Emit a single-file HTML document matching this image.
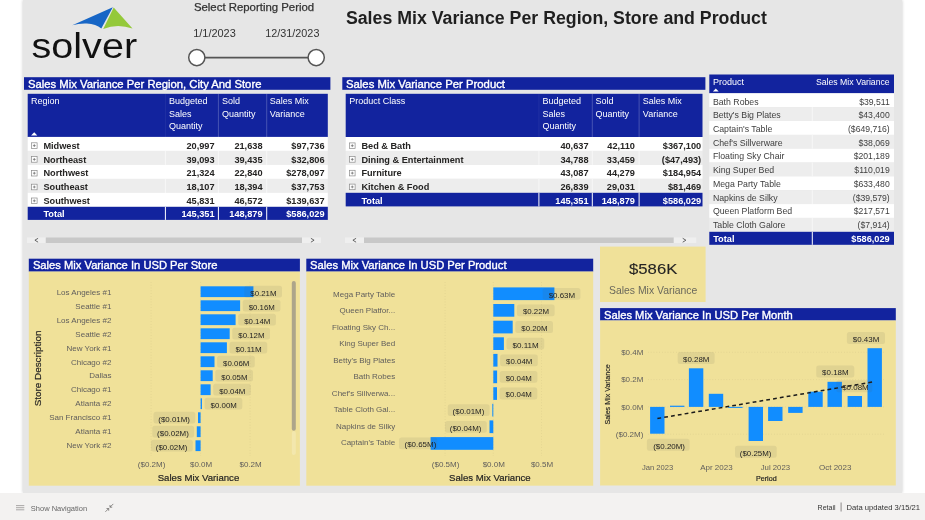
<!DOCTYPE html>
<html lang="en">
<head>
<meta charset="utf-8">
<title>Sales Mix Variance Per Region, Store and Product</title>
<style>
html,body{margin:0;padding:0;}
body{width:925px;height:520px;overflow:hidden;background:#fff;position:relative;font-family:"Liberation Sans",sans-serif;color:#252423;}
#canvas{position:absolute;left:23px;top:0;width:878.8px;height:492.6px;background:#E6E6E6;box-shadow:0 0 3px rgba(0,0,0,.22);}
#footerbg{position:absolute;left:0;top:493px;width:925px;height:27px;background:#F3F2F1;}
section{position:absolute;left:0;top:0;width:925px;height:520px;pointer-events:none;}
svg{position:absolute;left:0;top:0;overflow:visible;}
svg text{font-family:"Liberation Sans",sans-serif;white-space:pre;}
</style>
</head>
<body>
<div id="canvas"></div>
<div id="footerbg"></div>
<section id="logo" aria-label="Solver logo"><svg width="925" height="520" viewBox="0 0 925 520">
<path d="M72.3 25.2 L112.8 7.2 L101.3 28.6 Q96 24.3 86.9 23.6 Q79 23.3 72.3 25.2 Z" fill="#1766C6"/>
<path d="M113.7 7.6 L132.5 28.6 Q117.7 23.4 103.2 28.9 Z" fill="#94C93A"/>
<text x="31.5" y="57.8" font-size="35.8" fill="#111" textLength="105.6" lengthAdjust="spacingAndGlyphs">solver</text>
</svg></section>
<section id="slicer" aria-label="Select Reporting Period"><svg width="925" height="520" viewBox="0 0 925 520">
<line x1="197" y1="57.6" x2="316" y2="57.6" stroke="#555" stroke-width="1.8"/>
<circle cx="196.8" cy="57.6" r="8.1" fill="#fff" stroke="#555" stroke-width="1.5"/>
<circle cx="316.2" cy="57.6" r="8.1" fill="#fff" stroke="#555" stroke-width="1.5"/>
<text x="193.9" y="10.8" font-size="10.8" fill="#333" textLength="120.3" lengthAdjust="spacingAndGlyphs" stroke="#333" stroke-width="0.25">Select Reporting Period</text>
<text x="193.2" y="36.8" font-size="11" fill="#333" textLength="42.6" lengthAdjust="spacingAndGlyphs">1/1/2023</text>
<text x="265.3" y="36.8" font-size="11" fill="#333" textLength="54.1" lengthAdjust="spacingAndGlyphs">12/31/2023</text>
</svg></section>
<section id="pageTitle" aria-label="Report title"><svg width="925" height="520" viewBox="0 0 925 520">

<text x="345.9" y="23.5" font-size="18.7" fill="#1f1f1f" font-weight="700" textLength="421" lengthAdjust="spacingAndGlyphs">Sales Mix Variance Per Region, Store and Product</text>
</svg></section>
<section id="regionMatrix" aria-label="Sales Mix Variance Per Region, City And Store"><svg width="925" height="520" viewBox="0 0 925 520">
<rect x="24.0" y="77.2" width="306.4" height="12.6" fill="#12239E"/>
<rect x="27.7" y="93.8" width="300.1" height="43.2" fill="#12239E"/>
<rect x="164.9" y="93.8" width="1.0" height="43.2" fill="rgba(255,255,255,.06)"/>
<rect x="217.9" y="93.8" width="1.0" height="43.2" fill="rgba(255,255,255,.22)"/>
<rect x="266.2" y="93.8" width="1.0" height="43.2" fill="rgba(255,255,255,.22)"/>
<path d="M31.1 135.4L34.2 132.3L37.3 135.4Z" fill="#fff"/>
<rect x="27.7" y="136.9" width="300.1" height="14.0" fill="#fff"/>
<rect x="31.5" y="142.8" width="5.6" height="5.6" fill="#fff" stroke="#8a8a8a" stroke-width="0.7"/>
<path d="M32.9 145.6H35.7M34.3 144.2V147.0" stroke="#666" stroke-width="0.7" fill="none"/>
<rect x="27.7" y="150.9" width="300.1" height="14.0" fill="#EDEDED"/>
<rect x="164.9" y="150.9" width="1.0" height="14.0" fill="#f7f7f7"/>
<rect x="217.9" y="150.9" width="1.0" height="14.0" fill="#f7f7f7"/>
<rect x="266.2" y="150.9" width="1.0" height="14.0" fill="#f7f7f7"/>
<rect x="31.5" y="156.6" width="5.6" height="5.6" fill="#fff" stroke="#8a8a8a" stroke-width="0.7"/>
<path d="M32.9 159.4H35.7M34.3 158.0V160.8" stroke="#666" stroke-width="0.7" fill="none"/>
<rect x="27.7" y="164.9" width="300.1" height="14.0" fill="#fff"/>
<rect x="31.5" y="170.4" width="5.6" height="5.6" fill="#fff" stroke="#8a8a8a" stroke-width="0.7"/>
<path d="M32.9 173.2H35.7M34.3 171.8V174.6" stroke="#666" stroke-width="0.7" fill="none"/>
<rect x="27.7" y="178.9" width="300.1" height="14.0" fill="#EDEDED"/>
<rect x="164.9" y="178.9" width="1.0" height="14.0" fill="#f7f7f7"/>
<rect x="217.9" y="178.9" width="1.0" height="14.0" fill="#f7f7f7"/>
<rect x="266.2" y="178.9" width="1.0" height="14.0" fill="#f7f7f7"/>
<rect x="31.5" y="184.2" width="5.6" height="5.6" fill="#fff" stroke="#8a8a8a" stroke-width="0.7"/>
<path d="M32.9 187.0H35.7M34.3 185.6V188.4" stroke="#666" stroke-width="0.7" fill="none"/>
<rect x="27.7" y="192.8" width="300.1" height="14.0" fill="#fff"/>
<rect x="31.5" y="198.0" width="5.6" height="5.6" fill="#fff" stroke="#8a8a8a" stroke-width="0.7"/>
<path d="M32.9 200.8H35.7M34.3 199.4V202.2" stroke="#666" stroke-width="0.7" fill="none"/>
<rect x="27.7" y="206.8" width="300.1" height="13.1" fill="#12239E"/>
<rect x="164.9" y="206.8" width="1.0" height="13.1" fill="#fff"/>
<rect x="217.9" y="206.8" width="1.0" height="13.1" fill="#fff"/>
<rect x="266.2" y="206.8" width="1.0" height="13.1" fill="#fff"/>
<rect x="27.0" y="237.5" width="18.8" height="5.5" fill="#EFEFEF"/>
<rect x="45.8" y="237.5" width="256.2" height="5.5" fill="#C8C8C8"/>
<rect x="302.0" y="237.5" width="19.0" height="5.5" fill="#EFEFEF"/>
<path d="M38.1 238.3L34.9 240.2L38.1 242.2M310.9 238.3L314.1 240.2L310.9 242.2" stroke="#555" stroke-width="0.9" fill="none"/>
<text x="28.0" y="87.8" font-size="10.7" fill="#fff" textLength="233.4" lengthAdjust="spacingAndGlyphs" stroke="#fff" stroke-width="0.35">Sales Mix Variance Per Region, City And Store</text>
<text x="31.1" y="104.2" font-size="9" fill="#fff">Region</text>
<text x="169.1" y="104.2" font-size="9" fill="#fff">Budgeted</text>
<text x="169.1" y="116.5" font-size="9" fill="#fff">Sales</text>
<text x="169.1" y="128.8" font-size="9" fill="#fff">Quantity</text>
<text x="221.9" y="104.2" font-size="9" fill="#fff">Sold</text>
<text x="221.9" y="116.5" font-size="9" fill="#fff">Quantity</text>
<text x="269.8" y="104.2" font-size="9" fill="#fff">Sales Mix</text>
<text x="269.8" y="116.5" font-size="9" fill="#fff">Variance</text>
<text x="43.4" y="148.8" font-size="9.2" fill="#252423" font-weight="700">Midwest</text>
<text x="214.6" y="148.8" font-size="9.2" fill="#252423" font-weight="700" text-anchor="end">20,997</text>
<text x="262.5" y="148.8" font-size="9.2" fill="#252423" font-weight="700" text-anchor="end">21,638</text>
<text x="324.5" y="148.8" font-size="9.2" fill="#252423" font-weight="700" text-anchor="end">$97,736</text>
<text x="43.4" y="162.6" font-size="9.2" fill="#252423" font-weight="700">Northeast</text>
<text x="214.6" y="162.6" font-size="9.2" fill="#252423" font-weight="700" text-anchor="end">39,093</text>
<text x="262.5" y="162.6" font-size="9.2" fill="#252423" font-weight="700" text-anchor="end">39,435</text>
<text x="324.5" y="162.6" font-size="9.2" fill="#252423" font-weight="700" text-anchor="end">$32,806</text>
<text x="43.4" y="176.4" font-size="9.2" fill="#252423" font-weight="700">Northwest</text>
<text x="214.6" y="176.4" font-size="9.2" fill="#252423" font-weight="700" text-anchor="end">21,324</text>
<text x="262.5" y="176.4" font-size="9.2" fill="#252423" font-weight="700" text-anchor="end">22,840</text>
<text x="324.5" y="176.4" font-size="9.2" fill="#252423" font-weight="700" text-anchor="end">$278,097</text>
<text x="43.4" y="190.2" font-size="9.2" fill="#252423" font-weight="700">Southeast</text>
<text x="214.6" y="190.2" font-size="9.2" fill="#252423" font-weight="700" text-anchor="end">18,107</text>
<text x="262.5" y="190.2" font-size="9.2" fill="#252423" font-weight="700" text-anchor="end">18,394</text>
<text x="324.5" y="190.2" font-size="9.2" fill="#252423" font-weight="700" text-anchor="end">$37,753</text>
<text x="43.4" y="204.0" font-size="9.2" fill="#252423" font-weight="700">Southwest</text>
<text x="214.6" y="204.0" font-size="9.2" fill="#252423" font-weight="700" text-anchor="end">45,831</text>
<text x="262.5" y="204.0" font-size="9.2" fill="#252423" font-weight="700" text-anchor="end">46,572</text>
<text x="324.5" y="204.0" font-size="9.2" fill="#252423" font-weight="700" text-anchor="end">$139,637</text>
<text x="43.4" y="217.4" font-size="9.2" fill="#fff" font-weight="700">Total</text>
<text x="214.6" y="217.4" font-size="9.2" fill="#fff" font-weight="700" text-anchor="end">145,351</text>
<text x="262.5" y="217.4" font-size="9.2" fill="#fff" font-weight="700" text-anchor="end">148,879</text>
<text x="324.5" y="217.4" font-size="9.2" fill="#fff" font-weight="700" text-anchor="end">$586,029</text>
</svg></section>
<section id="productClassMatrix" aria-label="Sales Mix Variance Per Product"><svg width="925" height="520" viewBox="0 0 925 520">
<rect x="342.3" y="77.2" width="363.1" height="12.6" fill="#12239E"/>
<rect x="345.7" y="93.8" width="356.8" height="43.2" fill="#12239E"/>
<rect x="538.4" y="93.8" width="1.0" height="43.2" fill="rgba(255,255,255,.06)"/>
<rect x="591.8" y="93.8" width="1.0" height="43.2" fill="rgba(255,255,255,.22)"/>
<rect x="638.6" y="93.8" width="1.0" height="43.2" fill="rgba(255,255,255,.22)"/>
<rect x="345.7" y="137.0" width="356.8" height="13.9" fill="#fff"/>
<rect x="349.5" y="142.9" width="5.6" height="5.6" fill="#fff" stroke="#8a8a8a" stroke-width="0.7"/>
<path d="M350.9 145.7H353.7M352.3 144.3V147.1" stroke="#666" stroke-width="0.7" fill="none"/>
<rect x="345.7" y="150.9" width="356.8" height="13.9" fill="#EDEDED"/>
<rect x="538.4" y="150.9" width="1.0" height="13.9" fill="#f7f7f7"/>
<rect x="591.8" y="150.9" width="1.0" height="13.9" fill="#f7f7f7"/>
<rect x="638.6" y="150.9" width="1.0" height="13.9" fill="#f7f7f7"/>
<rect x="349.5" y="156.6" width="5.6" height="5.6" fill="#fff" stroke="#8a8a8a" stroke-width="0.7"/>
<path d="M350.9 159.4H353.7M352.3 158.0V160.8" stroke="#666" stroke-width="0.7" fill="none"/>
<rect x="345.7" y="164.9" width="356.8" height="13.9" fill="#fff"/>
<rect x="349.5" y="170.3" width="5.6" height="5.6" fill="#fff" stroke="#8a8a8a" stroke-width="0.7"/>
<path d="M350.9 173.1H353.7M352.3 171.7V174.5" stroke="#666" stroke-width="0.7" fill="none"/>
<rect x="345.7" y="178.8" width="356.8" height="13.9" fill="#EDEDED"/>
<rect x="538.4" y="178.8" width="1.0" height="13.9" fill="#f7f7f7"/>
<rect x="591.8" y="178.8" width="1.0" height="13.9" fill="#f7f7f7"/>
<rect x="638.6" y="178.8" width="1.0" height="13.9" fill="#f7f7f7"/>
<rect x="349.5" y="184.1" width="5.6" height="5.6" fill="#fff" stroke="#8a8a8a" stroke-width="0.7"/>
<path d="M350.9 186.9H353.7M352.3 185.5V188.3" stroke="#666" stroke-width="0.7" fill="none"/>
<rect x="345.7" y="192.8" width="356.8" height="13.6" fill="#12239E"/>
<rect x="538.4" y="192.8" width="1.0" height="13.6" fill="#fff"/>
<rect x="591.8" y="192.8" width="1.0" height="13.6" fill="#fff"/>
<rect x="638.6" y="192.8" width="1.0" height="13.6" fill="#fff"/>
<rect x="345.0" y="237.5" width="19.0" height="5.5" fill="#EFEFEF"/>
<rect x="364.0" y="237.5" width="309.8" height="5.5" fill="#C8C8C8"/>
<rect x="673.8" y="237.5" width="22.4" height="5.5" fill="#EFEFEF"/>
<path d="M356.1 238.3L352.9 240.2L356.1 242.2M682.7 238.3L685.9 240.2L682.7 242.2" stroke="#555" stroke-width="0.9" fill="none"/>
<text x="346.0" y="87.8" font-size="10.7" fill="#fff" textLength="159" lengthAdjust="spacingAndGlyphs" stroke="#fff" stroke-width="0.35">Sales Mix Variance Per Product</text>
<text x="349.2" y="104.2" font-size="9" fill="#fff">Product Class</text>
<text x="542.6" y="104.2" font-size="9" fill="#fff">Budgeted</text>
<text x="542.6" y="116.5" font-size="9" fill="#fff">Sales</text>
<text x="542.6" y="128.8" font-size="9" fill="#fff">Quantity</text>
<text x="595.6" y="104.2" font-size="9" fill="#fff">Sold</text>
<text x="595.6" y="116.5" font-size="9" fill="#fff">Quantity</text>
<text x="642.8" y="104.2" font-size="9" fill="#fff">Sales Mix</text>
<text x="642.8" y="116.5" font-size="9" fill="#fff">Variance</text>
<text x="361.4" y="148.9" font-size="9.2" fill="#252423" font-weight="700">Bed &amp; Bath</text>
<text x="588.5" y="148.9" font-size="9.2" fill="#252423" font-weight="700" text-anchor="end">40,637</text>
<text x="634.9" y="148.9" font-size="9.2" fill="#252423" font-weight="700" text-anchor="end">42,110</text>
<text x="701.2" y="148.9" font-size="9.2" fill="#252423" font-weight="700" text-anchor="end">$367,100</text>
<text x="361.4" y="162.6" font-size="9.2" fill="#252423" font-weight="700">Dining &amp; Entertainment</text>
<text x="588.5" y="162.6" font-size="9.2" fill="#252423" font-weight="700" text-anchor="end">34,788</text>
<text x="634.9" y="162.6" font-size="9.2" fill="#252423" font-weight="700" text-anchor="end">33,459</text>
<text x="701.2" y="162.6" font-size="9.2" fill="#252423" font-weight="700" text-anchor="end">($47,493)</text>
<text x="361.4" y="176.3" font-size="9.2" fill="#252423" font-weight="700">Furniture</text>
<text x="588.5" y="176.3" font-size="9.2" fill="#252423" font-weight="700" text-anchor="end">43,087</text>
<text x="634.9" y="176.3" font-size="9.2" fill="#252423" font-weight="700" text-anchor="end">44,279</text>
<text x="701.2" y="176.3" font-size="9.2" fill="#252423" font-weight="700" text-anchor="end">$184,954</text>
<text x="361.4" y="190.1" font-size="9.2" fill="#252423" font-weight="700">Kitchen &amp; Food</text>
<text x="588.5" y="190.1" font-size="9.2" fill="#252423" font-weight="700" text-anchor="end">26,839</text>
<text x="634.9" y="190.1" font-size="9.2" fill="#252423" font-weight="700" text-anchor="end">29,031</text>
<text x="701.2" y="190.1" font-size="9.2" fill="#252423" font-weight="700" text-anchor="end">$81,469</text>
<text x="361.4" y="203.9" font-size="9.2" fill="#fff" font-weight="700">Total</text>
<text x="588.5" y="203.9" font-size="9.2" fill="#fff" font-weight="700" text-anchor="end">145,351</text>
<text x="634.9" y="203.9" font-size="9.2" fill="#fff" font-weight="700" text-anchor="end">148,879</text>
<text x="701.2" y="203.9" font-size="9.2" fill="#fff" font-weight="700" text-anchor="end">$586,029</text>
</svg></section>
<section id="productTable" aria-label="Sales Mix Variance by Product"><svg width="925" height="520" viewBox="0 0 925 520">
<rect x="709.3" y="74.5" width="184.7" height="18.8" fill="#12239E"/>
<path d="M712.9 91.5L715.8 88.4L718.7 91.5Z" fill="#fff"/>
<rect x="709.3" y="93.3" width="184.7" height="13.8" fill="#fff"/>
<rect x="709.3" y="107.1" width="184.7" height="13.8" fill="#EDEDED"/>
<rect x="811.8" y="107.1" width="1.0" height="13.8" fill="#f7f7f7"/>
<rect x="709.3" y="121.0" width="184.7" height="13.9" fill="#fff"/>
<rect x="709.3" y="134.8" width="184.7" height="13.8" fill="#EDEDED"/>
<rect x="811.8" y="134.8" width="1.0" height="13.8" fill="#f7f7f7"/>
<rect x="709.3" y="148.7" width="184.7" height="13.8" fill="#fff"/>
<rect x="709.3" y="162.5" width="184.7" height="13.8" fill="#EDEDED"/>
<rect x="811.8" y="162.5" width="1.0" height="13.8" fill="#f7f7f7"/>
<rect x="709.3" y="176.4" width="184.7" height="13.8" fill="#fff"/>
<rect x="709.3" y="190.2" width="184.7" height="13.8" fill="#EDEDED"/>
<rect x="811.8" y="190.2" width="1.0" height="13.8" fill="#f7f7f7"/>
<rect x="709.3" y="204.1" width="184.7" height="13.8" fill="#fff"/>
<rect x="709.3" y="217.9" width="184.7" height="13.8" fill="#EDEDED"/>
<rect x="811.8" y="217.9" width="1.0" height="13.8" fill="#f7f7f7"/>
<rect x="709.3" y="231.8" width="184.7" height="13.0" fill="#12239E"/>
<rect x="811.8" y="231.8" width="1.0" height="13.0" fill="#fff"/>
<text x="712.9" y="84.8" font-size="9" fill="#fff">Product</text>
<text x="889.7" y="84.8" font-size="8.7" fill="#fff" text-anchor="end">Sales Mix Variance</text>
<text x="712.9" y="104.7" font-size="8.75" fill="#404040">Bath Robes</text>
<text x="889.7" y="104.7" font-size="8.65" fill="#404040" text-anchor="end">$39,511</text>
<text x="712.9" y="118.4" font-size="8.75" fill="#404040">Betty's Big Plates</text>
<text x="889.7" y="118.4" font-size="8.65" fill="#404040" text-anchor="end">$43,400</text>
<text x="712.9" y="132.1" font-size="8.75" fill="#404040">Captain's Table</text>
<text x="889.7" y="132.1" font-size="8.65" fill="#404040" text-anchor="end">($649,716)</text>
<text x="712.9" y="145.7" font-size="8.75" fill="#404040">Chef's Sillverware</text>
<text x="889.7" y="145.7" font-size="8.65" fill="#404040" text-anchor="end">$38,069</text>
<text x="712.9" y="159.4" font-size="8.75" fill="#404040">Floating Sky Chair</text>
<text x="889.7" y="159.4" font-size="8.65" fill="#404040" text-anchor="end">$201,189</text>
<text x="712.9" y="173.1" font-size="8.75" fill="#404040">King Super Bed</text>
<text x="889.7" y="173.1" font-size="8.65" fill="#404040" text-anchor="end">$110,019</text>
<text x="712.9" y="186.8" font-size="8.75" fill="#404040">Mega Party Table</text>
<text x="889.7" y="186.8" font-size="8.65" fill="#404040" text-anchor="end">$633,480</text>
<text x="712.9" y="200.5" font-size="8.75" fill="#404040">Napkins de Silky</text>
<text x="889.7" y="200.5" font-size="8.65" fill="#404040" text-anchor="end">($39,579)</text>
<text x="712.9" y="214.1" font-size="8.75" fill="#404040">Queen Platform Bed</text>
<text x="889.7" y="214.1" font-size="8.65" fill="#404040" text-anchor="end">$217,571</text>
<text x="712.9" y="227.8" font-size="8.75" fill="#404040">Table Cloth Galore</text>
<text x="889.7" y="227.8" font-size="8.65" fill="#404040" text-anchor="end">($7,914)</text>
<text x="713.2" y="241.7" font-size="9.2" fill="#fff" font-weight="700">Total</text>
<text x="889.7" y="241.7" font-size="9.2" fill="#fff" font-weight="700" text-anchor="end">$586,029</text>
</svg></section>
<section id="storeChart" aria-label="Sales Mix Variance In USD Per Store"><svg width="925" height="520" viewBox="0 0 925 520">
<rect x="28.8" y="258.7" width="271.1" height="12.9" fill="#12239E"/>
<rect x="28.8" y="271.6" width="271.1" height="214.1" fill="#F0E199"/>
<line x1="151.1" y1="282" x2="151.1" y2="456" stroke="#dccf8e" stroke-width="0.7" stroke-dasharray="0.8 2"/>
<line x1="200.6" y1="282" x2="200.6" y2="456" stroke="#dccf8e" stroke-width="0.7" stroke-dasharray="0.8 2"/>
<line x1="250.1" y1="282" x2="250.1" y2="456" stroke="#dccf8e" stroke-width="0.7" stroke-dasharray="0.8 2"/>
<rect x="200.6" y="286.3" width="52.8" height="10.8" fill="#118DFF"/>
<rect x="244.3" y="285.8" width="37.7" height="11.8" rx="2.5" fill="rgba(90,88,80,0.10)"/>
<rect x="200.6" y="300.3" width="39.5" height="10.8" fill="#118DFF"/>
<rect x="242.7" y="299.8" width="37.7" height="11.8" rx="2.5" fill="rgba(90,88,80,0.10)"/>
<rect x="200.6" y="314.3" width="35.0" height="10.8" fill="#118DFF"/>
<rect x="238.2" y="313.8" width="37.7" height="11.8" rx="2.5" fill="rgba(90,88,80,0.10)"/>
<rect x="200.6" y="328.3" width="29.1" height="10.8" fill="#118DFF"/>
<rect x="232.3" y="327.8" width="37.7" height="11.8" rx="2.5" fill="rgba(90,88,80,0.10)"/>
<rect x="200.6" y="342.3" width="26.3" height="10.8" fill="#118DFF"/>
<rect x="229.5" y="341.8" width="37.7" height="11.8" rx="2.5" fill="rgba(90,88,80,0.10)"/>
<rect x="200.6" y="356.3" width="13.9" height="10.8" fill="#118DFF"/>
<rect x="217.1" y="355.8" width="37.7" height="11.8" rx="2.5" fill="rgba(90,88,80,0.10)"/>
<rect x="200.6" y="370.3" width="12.1" height="10.8" fill="#118DFF"/>
<rect x="215.3" y="369.8" width="37.7" height="11.8" rx="2.5" fill="rgba(90,88,80,0.10)"/>
<rect x="200.6" y="384.3" width="10.0" height="10.8" fill="#118DFF"/>
<rect x="213.2" y="383.8" width="37.7" height="11.8" rx="2.5" fill="rgba(90,88,80,0.10)"/>
<rect x="200.6" y="398.3" width="1.4" height="10.8" fill="#118DFF"/>
<rect x="204.6" y="397.8" width="37.7" height="11.8" rx="2.5" fill="rgba(90,88,80,0.10)"/>
<rect x="198.0" y="412.3" width="2.6" height="10.8" fill="#118DFF"/>
<rect x="153.5" y="411.8" width="41.8" height="11.8" rx="2.5" fill="rgba(90,88,80,0.10)"/>
<rect x="196.8" y="426.3" width="3.8" height="10.8" fill="#118DFF"/>
<rect x="152.3" y="425.8" width="41.8" height="11.8" rx="2.5" fill="rgba(90,88,80,0.10)"/>
<rect x="195.5" y="440.3" width="5.1" height="10.8" fill="#118DFF"/>
<rect x="151.0" y="439.8" width="41.8" height="11.8" rx="2.5" fill="rgba(90,88,80,0.10)"/>
<rect x="291.8" y="431" width="4" height="24" rx="2" fill="#F3E9B5" opacity=".7"/>
<rect x="291.8" y="281" width="4" height="149.8" rx="2" fill="#ADA58A"/>
<text x="32.9" y="269.1" font-size="10.7" fill="#fff" textLength="184.5" lengthAdjust="spacingAndGlyphs" stroke="#fff" stroke-width="0.35">Sales Mix Variance In USD Per Store</text>
<text x="151.6" y="466.6" font-size="8" fill="#605E5C" text-anchor="middle">($0.2M)</text>
<text x="201.1" y="466.6" font-size="8" fill="#605E5C" text-anchor="middle">$0.0M</text>
<text x="250.6" y="466.6" font-size="8" fill="#605E5C" text-anchor="middle">$0.2M</text>
<text x="111.4" y="294.9" font-size="8" fill="#605E5C" text-anchor="end">Los Angeles #1</text>
<text x="250.3" y="295.6" font-size="8" fill="#252423" textLength="26.2" lengthAdjust="spacingAndGlyphs">$0.21M</text>
<text x="111.4" y="308.8" font-size="8" fill="#605E5C" text-anchor="end">Seattle #1</text>
<text x="248.7" y="309.6" font-size="8" fill="#252423" textLength="26.2" lengthAdjust="spacingAndGlyphs">$0.16M</text>
<text x="111.4" y="322.7" font-size="8" fill="#605E5C" text-anchor="end">Los Angeles #2</text>
<text x="244.2" y="323.6" font-size="8" fill="#252423" textLength="26.2" lengthAdjust="spacingAndGlyphs">$0.14M</text>
<text x="111.4" y="336.7" font-size="8" fill="#605E5C" text-anchor="end">Seattle #2</text>
<text x="238.3" y="337.6" font-size="8" fill="#252423" textLength="26.2" lengthAdjust="spacingAndGlyphs">$0.12M</text>
<text x="111.4" y="350.6" font-size="8" fill="#605E5C" text-anchor="end">New York #1</text>
<text x="235.5" y="351.6" font-size="8" fill="#252423" textLength="26.2" lengthAdjust="spacingAndGlyphs">$0.11M</text>
<text x="111.4" y="364.5" font-size="8" fill="#605E5C" text-anchor="end">Chicago #2</text>
<text x="223.1" y="365.6" font-size="8" fill="#252423" textLength="26.2" lengthAdjust="spacingAndGlyphs">$0.06M</text>
<text x="111.4" y="378.4" font-size="8" fill="#605E5C" text-anchor="end">Dallas</text>
<text x="221.3" y="379.6" font-size="8" fill="#252423" textLength="26.2" lengthAdjust="spacingAndGlyphs">$0.05M</text>
<text x="111.4" y="392.3" font-size="8" fill="#605E5C" text-anchor="end">Chicago #1</text>
<text x="219.2" y="393.6" font-size="8" fill="#252423" textLength="26.2" lengthAdjust="spacingAndGlyphs">$0.04M</text>
<text x="111.4" y="406.3" font-size="8" fill="#605E5C" text-anchor="end">Atlanta #2</text>
<text x="210.6" y="407.6" font-size="8" fill="#252423" textLength="26.2" lengthAdjust="spacingAndGlyphs">$0.00M</text>
<text x="111.4" y="420.2" font-size="8" fill="#605E5C" text-anchor="end">San Francisco #1</text>
<text x="158.3" y="421.6" font-size="8" fill="#252423" textLength="31.7" lengthAdjust="spacingAndGlyphs">($0.01M)</text>
<text x="111.4" y="434.1" font-size="8" fill="#605E5C" text-anchor="end">Atlanta #1</text>
<text x="157.1" y="435.6" font-size="8" fill="#252423" textLength="31.7" lengthAdjust="spacingAndGlyphs">($0.02M)</text>
<text x="111.4" y="448.0" font-size="8" fill="#605E5C" text-anchor="end">New York #2</text>
<text x="155.8" y="449.6" font-size="8" fill="#252423" textLength="31.7" lengthAdjust="spacingAndGlyphs">($0.02M)</text>
<text x="198.5" y="481.1" font-size="9.7" fill="#252423" text-anchor="middle" textLength="81.6" lengthAdjust="spacingAndGlyphs" stroke="#252423" stroke-width="0.2">Sales Mix Variance</text>
<text transform="translate(41.3 406.2) rotate(-90)" font-size="9.9" fill="#252423" stroke="#252423" stroke-width="0.2" textLength="75.6" lengthAdjust="spacingAndGlyphs">Store Description</text>
</svg></section>
<section id="productChart" aria-label="Sales Mix Variance In USD Per Product"><svg width="925" height="520" viewBox="0 0 925 520">
<rect x="306.3" y="258.7" width="286.9" height="12.9" fill="#12239E"/>
<rect x="306.3" y="271.6" width="286.9" height="214.1" fill="#F0E199"/>
<line x1="445.1" y1="282" x2="445.1" y2="456" stroke="#dccf8e" stroke-width="0.7" stroke-dasharray="0.8 2"/>
<line x1="493.3" y1="282" x2="493.3" y2="456" stroke="#dccf8e" stroke-width="0.7" stroke-dasharray="0.8 2"/>
<line x1="541.5" y1="282" x2="541.5" y2="456" stroke="#dccf8e" stroke-width="0.7" stroke-dasharray="0.8 2"/>
<rect x="493.3" y="287.4" width="61.1" height="12.7" fill="#118DFF"/>
<rect x="542.7" y="287.9" width="37.7" height="11.8" rx="2.5" fill="rgba(90,88,80,0.10)"/>
<rect x="493.3" y="304.0" width="21.0" height="12.7" fill="#118DFF"/>
<rect x="516.9" y="304.5" width="37.7" height="11.8" rx="2.5" fill="rgba(90,88,80,0.10)"/>
<rect x="493.3" y="320.7" width="19.4" height="12.7" fill="#118DFF"/>
<rect x="515.3" y="321.1" width="37.7" height="11.8" rx="2.5" fill="rgba(90,88,80,0.10)"/>
<rect x="493.3" y="337.3" width="10.6" height="12.7" fill="#118DFF"/>
<rect x="506.5" y="337.7" width="37.7" height="11.8" rx="2.5" fill="rgba(90,88,80,0.10)"/>
<rect x="493.3" y="353.9" width="4.2" height="12.7" fill="#118DFF"/>
<rect x="500.1" y="354.4" width="37.7" height="11.8" rx="2.5" fill="rgba(90,88,80,0.10)"/>
<rect x="493.3" y="370.5" width="3.8" height="12.7" fill="#118DFF"/>
<rect x="499.7" y="371.0" width="37.7" height="11.8" rx="2.5" fill="rgba(90,88,80,0.10)"/>
<rect x="493.3" y="387.2" width="3.7" height="12.7" fill="#118DFF"/>
<rect x="499.6" y="387.6" width="37.7" height="11.8" rx="2.5" fill="rgba(90,88,80,0.10)"/>
<rect x="492.3" y="403.8" width="1.0" height="12.7" fill="#118DFF"/>
<rect x="447.8" y="404.3" width="41.8" height="11.8" rx="2.5" fill="rgba(90,88,80,0.10)"/>
<rect x="489.5" y="420.4" width="3.8" height="12.7" fill="#118DFF"/>
<rect x="445.0" y="420.9" width="41.8" height="11.8" rx="2.5" fill="rgba(90,88,80,0.10)"/>
<rect x="430.6" y="437.1" width="62.7" height="12.7" fill="#118DFF"/>
<rect x="399.0" y="437.5" width="38.3" height="11.8" rx="2.5" fill="rgba(90,88,80,0.10)"/>
<text x="310.0" y="269.1" font-size="10.7" fill="#fff" textLength="196.5" lengthAdjust="spacingAndGlyphs" stroke="#fff" stroke-width="0.35">Sales Mix Variance In USD Per Product</text>
<text x="445.6" y="466.9" font-size="8" fill="#605E5C" text-anchor="middle">($0.5M)</text>
<text x="493.8" y="466.9" font-size="8" fill="#605E5C" text-anchor="middle">$0.0M</text>
<text x="542.0" y="466.9" font-size="8" fill="#605E5C" text-anchor="middle">$0.5M</text>
<text x="395.2" y="296.6" font-size="8" fill="#605E5C" text-anchor="end">Mega Party Table</text>
<text x="548.7" y="297.7" font-size="8" fill="#252423" textLength="26.4" lengthAdjust="spacingAndGlyphs">$0.63M</text>
<text x="395.2" y="313.1" font-size="8" fill="#605E5C" text-anchor="end">Queen Platfor...</text>
<text x="522.9" y="314.3" font-size="8" fill="#252423" textLength="26.2" lengthAdjust="spacingAndGlyphs">$0.22M</text>
<text x="395.2" y="329.6" font-size="8" fill="#605E5C" text-anchor="end">Floating Sky Ch...</text>
<text x="521.3" y="330.9" font-size="8" fill="#252423" textLength="26.2" lengthAdjust="spacingAndGlyphs">$0.20M</text>
<text x="395.2" y="346.2" font-size="8" fill="#605E5C" text-anchor="end">King Super Bed</text>
<text x="512.5" y="347.5" font-size="8" fill="#252423" textLength="26.2" lengthAdjust="spacingAndGlyphs">$0.11M</text>
<text x="395.2" y="362.7" font-size="8" fill="#605E5C" text-anchor="end">Betty's Big Plates</text>
<text x="506.1" y="364.2" font-size="8" fill="#252423" textLength="26.2" lengthAdjust="spacingAndGlyphs">$0.04M</text>
<text x="395.2" y="379.2" font-size="8" fill="#605E5C" text-anchor="end">Bath Robes</text>
<text x="505.7" y="380.8" font-size="8" fill="#252423" textLength="26.2" lengthAdjust="spacingAndGlyphs">$0.04M</text>
<text x="395.2" y="395.7" font-size="8" fill="#605E5C" text-anchor="end">Chef's Sillverwa...</text>
<text x="505.6" y="397.4" font-size="8" fill="#252423" textLength="26.2" lengthAdjust="spacingAndGlyphs">$0.04M</text>
<text x="395.2" y="412.2" font-size="8" fill="#605E5C" text-anchor="end">Table Cloth Gal...</text>
<text x="452.6" y="414.1" font-size="8" fill="#252423" textLength="31.7" lengthAdjust="spacingAndGlyphs">($0.01M)</text>
<text x="395.2" y="428.8" font-size="8" fill="#605E5C" text-anchor="end">Napkins de Silky</text>
<text x="449.8" y="430.7" font-size="8" fill="#252423" textLength="31.7" lengthAdjust="spacingAndGlyphs">($0.04M)</text>
<text x="395.2" y="445.3" font-size="8" fill="#605E5C" text-anchor="end">Captain's Table</text>
<text x="404.5" y="447.3" font-size="8" fill="#252423" textLength="31.8" lengthAdjust="spacingAndGlyphs">($0.65M)</text>
<text x="489.9" y="481.1" font-size="9.7" fill="#252423" text-anchor="middle" textLength="81.6" lengthAdjust="spacingAndGlyphs" stroke="#252423" stroke-width="0.2">Sales Mix Variance</text>
</svg></section>
<section id="card" aria-label="Sales Mix Variance card"><svg width="925" height="520" viewBox="0 0 925 520">
<rect x="600.0" y="246.6" width="105.6" height="55.4" fill="#F0E199"/>
<text x="629.0" y="273.5" font-size="15.3" fill="#252423" textLength="48.4" lengthAdjust="spacingAndGlyphs" stroke="#252423" stroke-width="0.1">$586K</text>
<text x="609.0" y="293.7" font-size="10.4" fill="#6B695C" textLength="88.3" lengthAdjust="spacingAndGlyphs">Sales Mix Variance</text>
</svg></section>
<section id="monthChart" aria-label="Sales Mix Variance In USD Per Month"><svg width="925" height="520" viewBox="0 0 925 520">
<rect x="600.1" y="308.1" width="295.7" height="12.4" fill="#12239E"/>
<rect x="600.1" y="320.5" width="295.7" height="165.0" fill="#F0E199"/>
<line x1="648" y1="352.3" x2="885" y2="352.3" stroke="#dccf8e" stroke-width="0.7" stroke-dasharray="0.8 2"/>
<line x1="648" y1="379.6" x2="885" y2="379.6" stroke="#dccf8e" stroke-width="0.7" stroke-dasharray="0.8 2"/>
<line x1="648" y1="406.9" x2="885" y2="406.9" stroke="#dccf8e" stroke-width="0.7" stroke-dasharray="0.8 2"/>
<line x1="648" y1="434.2" x2="885" y2="434.2" stroke="#dccf8e" stroke-width="0.7" stroke-dasharray="0.8 2"/>
<rect x="650.1" y="406.9" width="14.4" height="26.8" fill="#118DFF"/>
<rect x="670.0" y="405.7" width="14.4" height="1.2" fill="#118DFF"/>
<rect x="688.9" y="368.3" width="14.4" height="38.6" fill="#118DFF"/>
<rect x="708.8" y="393.8" width="14.4" height="13.1" fill="#118DFF"/>
<rect x="728.2" y="406.9" width="14.4" height="1.0" fill="#118DFF"/>
<rect x="748.6" y="406.9" width="14.4" height="34.1" fill="#118DFF"/>
<rect x="768.1" y="406.9" width="14.4" height="14.1" fill="#118DFF"/>
<rect x="788.2" y="406.9" width="14.4" height="6.0" fill="#118DFF"/>
<rect x="808.3" y="391.7" width="14.4" height="15.2" fill="#118DFF"/>
<rect x="827.5" y="381.8" width="14.4" height="25.1" fill="#118DFF"/>
<rect x="847.6" y="396.0" width="14.4" height="10.9" fill="#118DFF"/>
<rect x="867.5" y="348.2" width="14.4" height="58.7" fill="#118DFF"/>
<line x1="657.4" y1="418.5" x2="873.8" y2="381.8" stroke="#1a1a1a" stroke-width="1.5" stroke-dasharray="3.8 3.1"/>
<rect x="646.9" y="438.8" width="42.7" height="12.0" rx="2.5" fill="rgba(90,88,80,0.10)"/>
<rect x="677.7" y="352.1" width="36.9" height="12.0" rx="2.5" fill="rgba(90,88,80,0.10)"/>
<rect x="735.0" y="445.8" width="41.7" height="12.0" rx="2.5" fill="rgba(90,88,80,0.10)"/>
<rect x="816.2" y="365.5" width="38.1" height="12.0" rx="2.5" fill="rgba(90,88,80,0.10)"/>
<rect x="836.3" y="380.2" width="36.0" height="12.0" rx="2.5" fill="rgba(90,88,80,0.10)"/>
<rect x="846.9" y="332.1" width="38.1" height="12.0" rx="2.5" fill="rgba(90,88,80,0.10)"/>
<text x="604.0" y="318.8" font-size="10.7" fill="#fff" textLength="188.8" lengthAdjust="spacingAndGlyphs" stroke="#fff" stroke-width="0.35">Sales Mix Variance In USD Per Month</text>
<text x="643.4" y="355.1" font-size="8" fill="#605E5C" text-anchor="end">$0.4M</text>
<text x="643.4" y="382.4" font-size="8" fill="#605E5C" text-anchor="end">$0.2M</text>
<text x="643.4" y="409.7" font-size="8" fill="#605E5C" text-anchor="end">$0.0M</text>
<text x="643.4" y="437.0" font-size="8" fill="#605E5C" text-anchor="end">($0.2M)</text>
<text x="653.2" y="448.5" font-size="8" fill="#252423" textLength="31.8" lengthAdjust="spacingAndGlyphs">($0.20M)</text>
<text x="683.0" y="361.8" font-size="8" fill="#252423" textLength="26.4" lengthAdjust="spacingAndGlyphs">$0.28M</text>
<text x="739.8" y="455.5" font-size="8" fill="#252423" textLength="31.6" lengthAdjust="spacingAndGlyphs">($0.25M)</text>
<text x="822.1" y="375.2" font-size="8" fill="#252423" textLength="26.5" lengthAdjust="spacingAndGlyphs">$0.18M</text>
<text x="842.2" y="389.9" font-size="8" fill="#252423" textLength="26.5" lengthAdjust="spacingAndGlyphs">$0.08M</text>
<text x="852.8" y="341.8" font-size="8" fill="#252423" textLength="26.5" lengthAdjust="spacingAndGlyphs">$0.43M</text>
<text x="657.6" y="469.5" font-size="8" fill="#605E5C" text-anchor="middle" textLength="31.3" lengthAdjust="spacingAndGlyphs">Jan 2023</text>
<text x="716.4" y="469.5" font-size="8" fill="#605E5C" text-anchor="middle" textLength="32.4" lengthAdjust="spacingAndGlyphs">Apr 2023</text>
<text x="775.4" y="469.5" font-size="8" fill="#605E5C" text-anchor="middle" textLength="29.4" lengthAdjust="spacingAndGlyphs">Jul 2023</text>
<text x="835.2" y="469.5" font-size="8" fill="#605E5C" text-anchor="middle" textLength="32.4" lengthAdjust="spacingAndGlyphs">Oct 2023</text>
<text x="766.3" y="481.0" font-size="7.5" fill="#252423" text-anchor="middle" textLength="20.6" lengthAdjust="spacingAndGlyphs" stroke="#252423" stroke-width="0.2">Period</text>
<text transform="translate(609.6 424.6) rotate(-90)" font-size="7.2" fill="#252423" stroke="#252423" stroke-width="0.15" textLength="60.3" lengthAdjust="spacingAndGlyphs">Sales Mix Variance</text>
</svg></section>
<section id="footer" aria-label="Footer"><svg width="925" height="520" viewBox="0 0 925 520">
<path d="M16 505.6H24.3M16 507.7H24.3M16 509.8H24.3" stroke="#8a8886" stroke-width="0.7" fill="none"/>
<path d="M113.3 503.9L110 507.2M110 505V507.2H112.2M105.4 511.8L108.7 508.5M108.7 510.7V508.5H106.5" stroke="#605E5C" stroke-width="0.7" fill="none"/>
<line x1="841.1" y1="502.5" x2="841.1" y2="511.5" stroke="#605E5C" stroke-width="0.7"/>
<text x="30.8" y="510.7" font-size="7.8" fill="#666" textLength="56.3" lengthAdjust="spacingAndGlyphs">Show Navigation</text>
<text x="817.6" y="509.5" font-size="7.8" fill="#333" textLength="18.0" lengthAdjust="spacingAndGlyphs">Retail</text>
<text x="846.6" y="509.5" font-size="7.8" fill="#333" textLength="73.4" lengthAdjust="spacingAndGlyphs">Data updated 3/15/21</text>
</svg></section>
</body>
</html>
